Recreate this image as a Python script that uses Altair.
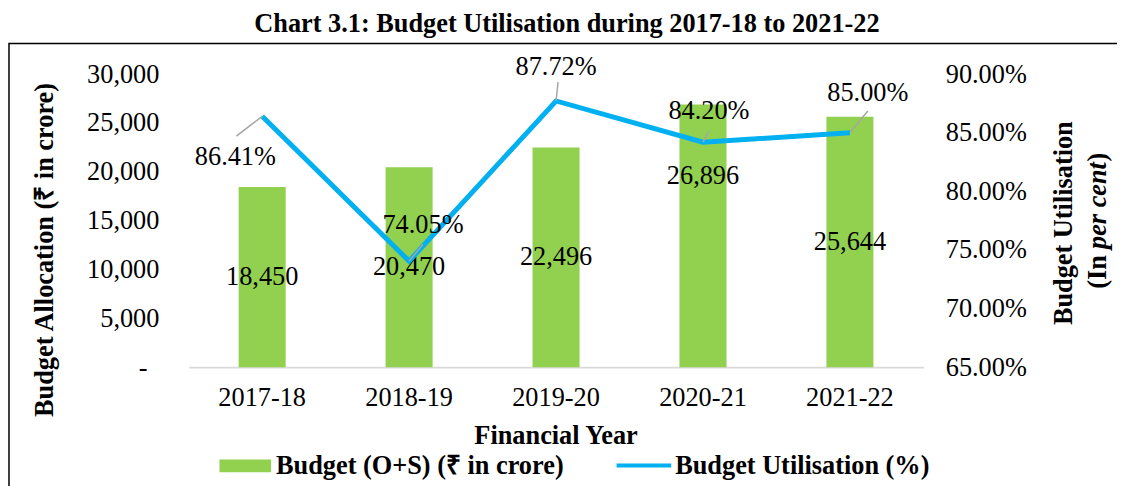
import altair as alt
import pandas as pd

# ---------------- data ----------------
years = ["2017-18", "2018-19", "2019-20", "2020-21", "2021-22"]
budget = [18450, 20470, 22496, 26896, 25644]
utilisation = [86.41, 74.05, 87.72, 84.20, 85.00]
left_ticks = [0, 5000, 10000, 15000, 20000, 25000, 30000]
right_ticks = [65, 70, 75, 80, 85, 90]

title_text = "Chart 3.1: Budget Utilisation during 2017-18 to 2021-22"
left_title = "Budget Allocation (\u20b9 in crore)"
x_title = "Financial Year"
bar_legend = "Budget (O+S) (\u20b9 in crore)"
line_legend = "Budget Utilisation (%)"

df = pd.DataFrame({"year": years, "budget": budget, "util": utilisation})
one = pd.DataFrame({"k": [0]})

# ---------------- style ----------------
GREEN = "#92D050"
BLUE = "#00B0F0"
GREY = "#A6A6A6"
FONT = "Liberation Serif"
FS = 26.5

# label offsets for the percentage labels: (dx, dy, leader_dx, leader_dy)
pct_offsets = {
    "2017-18": (-27, 41, -26, 20),
    "2018-19": (14, -36, 14, -17),
    "2019-20": (0, -34, 2, -19),
    "2020-21": (6, -31, 6, -11),
    "2021-22": (18, -40, 18, -22),
}
moved_bar_label = {"2020-21": -60}

x_enc = alt.X(
    "year:N", sort=years,
    scale=alt.Scale(paddingInner=0.68, paddingOuter=0.34),
    axis=alt.Axis(title=None, labelFont=FONT, labelFontSize=FS, labelColor="black",
                  labelAngle=0, labelBaseline="middle", labelPadding=31,
                  ticks=False, tickSize=0, domainColor="#D9D9D9", domainWidth=2,
                  grid=False),
)

yl_scale = alt.Scale(domain=[0, 30000], nice=False)
yr_scale = alt.Scale(domain=[65, 90], nice=False, zero=False)

left_axis = alt.Axis(title=None, orient="left", values=left_ticks, grid=False, domain=False,
                     ticks=False, tickSize=0,
                     labelPadding={"condition": {"test": "datum.value == 0", "value": 42}, "value": 30},
                     labelFont=FONT, labelFontSize=FS, labelColor="black",
                     labelExpr="datum.value == 0 ? '-' : format(datum.value, ',')")
right_axis = alt.Axis(title=None, orient="right", values=right_ticks, grid=False,
                      domain=False, ticks=False, tickSize=0, labelPadding=22,
                      labelFont=FONT, labelFontSize=FS, labelColor="black",
                      labelExpr="format(datum.value, '.2f') + '%'")

base = alt.Chart(df)

bars = base.mark_bar(color=GREEN).encode(
    x=x_enc,
    y=alt.Y("budget:Q", scale=yl_scale, axis=left_axis),
)

moved = list(moved_bar_label.keys())
bar_text = base.transform_calculate(half="datum.budget / 2").transform_filter(
    alt.FieldOneOfPredicate(field="year", oneOf=[y for y in years if y not in moved])
).mark_text(font=FONT, fontSize=FS, color="black", baseline="middle").encode(
    x=x_enc, y=alt.Y("half:Q", scale=yl_scale, axis=left_axis),
    text=alt.Text("budget:Q", format=","),
)
bar_text_layers = [bar_text]
for yr, dy in moved_bar_label.items():
    bar_text_layers.append(
        base.transform_calculate(half="datum.budget / 2").transform_filter(
            alt.datum.year == yr
        ).mark_text(font=FONT, fontSize=FS, color="black", baseline="middle", dy=dy).encode(
            x=x_enc, y=alt.Y("half:Q", scale=yl_scale, axis=left_axis),
            text=alt.Text("budget:Q", format=","),
        )
    )

left = alt.layer(bars, *bar_text_layers)

line = base.mark_line(color=BLUE, strokeWidth=5).encode(
    x=x_enc,
    y=alt.Y("util:Q", scale=yr_scale, axis=right_axis),
)

pct_layers = []
for yr, (dx, dy, lx, ly) in pct_offsets.items():
    sub = base.transform_filter(alt.datum.year == yr)
    pct_layers.append(
        sub.mark_point(shape=f"M0,0L{lx},{ly}", size=4, filled=False,
                       stroke=GREY, strokeWidth=1.5, opacity=1).encode(
            x=x_enc, y=alt.Y("util:Q", scale=yr_scale, axis=right_axis))
    )
    pct_layers.append(
        sub.transform_calculate(lbl="format(datum.util, '.2f') + '%'").mark_text(
            font=FONT, fontSize=FS, color="black", baseline="middle", dx=dx, dy=dy
        ).encode(x=x_enc, y=alt.Y("util:Q", scale=yr_scale, axis=right_axis), text="lbl:N")
    )

right = alt.layer(line, *pct_layers)

# ---------------- annotations ----------------
ann = alt.Chart(one)
border = ann.mark_rect(fillOpacity=0, stroke="black", strokeWidth=1.5).encode(
    x=alt.value(-181), x2=alt.value(960), y=alt.value(-31), y2=alt.value(440))
title = ann.mark_text(font=FONT, fontSize=FS, fontWeight="bold", color="black",
                      align="center", baseline="alphabetic").encode(
    x=alt.value(381), y=alt.value(-43), text=alt.value(title_text))
ltitle = ann.mark_text(font=FONT, fontSize=FS, fontWeight="bold", color="black",
                       align="center", baseline="middle", angle=270).encode(
    x=alt.value(-145), y=alt.value(177), text=alt.value(left_title))
rtitle1 = ann.mark_text(font=FONT, fontSize=FS, fontWeight="bold", color="black",
                        align="center", baseline="middle", angle=270).encode(
    x=alt.value(882), y=alt.value(150), text=alt.value("Budget Utilisation"))
rt_a = ann.mark_text(font=FONT, fontSize=FS, fontWeight="bold", color="black",
                     align="left", baseline="middle", angle=270).encode(
    x=alt.value(916), y=alt.value(216), text=alt.value("(In"))
rt_b = ann.mark_text(font=FONT, fontSize=FS, fontWeight="bold", fontStyle="italic",
                     color="black", align="left", baseline="middle", angle=270).encode(
    x=alt.value(916), y=alt.value(176), text=alt.value("per cent"))
rt_c = ann.mark_text(font=FONT, fontSize=FS, fontWeight="bold", color="black",
                     align="left", baseline="middle", angle=270).encode(
    x=alt.value(916), y=alt.value(88), text=alt.value(")"))
xtitle = ann.mark_text(font=FONT, fontSize=FS, fontWeight="bold", color="black",
                       align="center", baseline="middle").encode(
    x=alt.value(370), y=alt.value(364), text=alt.value(x_title))
leg_rect = ann.mark_rect(color=GREEN).encode(
    x=alt.value(31), x2=alt.value(83), y=alt.value(388), y2=alt.value(401))
leg_text1 = ann.mark_text(font=FONT, fontSize=FS, fontWeight="bold", color="black",
                          align="left", baseline="middle").encode(
    x=alt.value(88), y=alt.value(395), text=alt.value(bar_legend))
leg_line = ann.mark_rule(color=BLUE, strokeWidth=4).encode(
    x=alt.value(431), x2=alt.value(486), y=alt.value(394))
leg_text2 = ann.mark_text(font=FONT, fontSize=FS, fontWeight="bold", color="black",
                          align="left", baseline="middle").encode(
    x=alt.value(490), y=alt.value(395), text=alt.value(line_legend))

chart = alt.layer(
    border, left, right, title, ltitle, rtitle1, rt_a, rt_b, rt_c, xtitle,
    leg_rect, leg_text1, leg_line, leg_text2,
).resolve_scale(y="independent").properties(
    width=740, height=295,
    padding={"left": 182, "top": 65, "right": 195, "bottom": 118},
    autosize=alt.AutoSizeParams(type="none"),
    background="white",
).configure_view(stroke=None)

chart.save("out.html", embed_options={"renderer": "svg", "actions": False})
